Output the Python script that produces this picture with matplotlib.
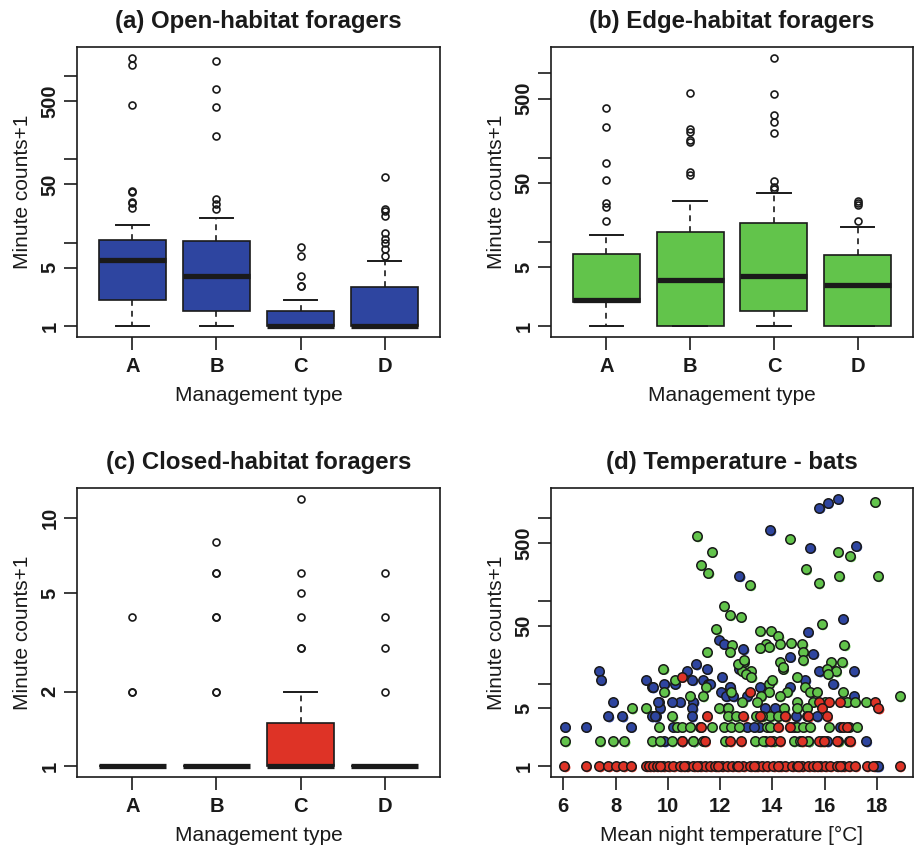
import matplotlib
matplotlib.use('Agg')
import matplotlib.pyplot as plt
import numpy as np
from matplotlib.ticker import FixedLocator, NullLocator, FixedFormatter
import matplotlib.transforms as mtransforms

plt.rcParams['font.family'] = ['Liberation Sans', 'DejaVu Sans']

# ---------------- data ----------------
categories = ['A', 'B', 'C', 'D']

# (a) Open-habitat foragers (minute counts + 1)
open_q1 = [2.05, 1.51, 1.0, 1.0]
open_med = [6.2, 4.0, 1.0, 1.0]
open_q3 = [10.9, 10.5, 1.51, 2.99]
open_whislo = [1, 1, 1, 1]
open_whishi = [16.1, 19.7, 2.05, 6.1]
open_fliers = [[1637, 1324, 443, 42, 40, 31, 30, 26],
               [1492, 696, 420, 188, 33, 29, 25],
               [8.9, 6.9, 4, 3, 3],
               [61, 25, 24, 21, 13, 11, 10, 8.3, 6.9]]

# (b) Edge-habitat foragers
edge_q1 = [1.95, 1.0, 1.51, 1.0]
edge_med = [2.05, 3.5, 3.9, 3.07]
edge_q3 = [7.1, 13.2, 16.9, 7.05]
edge_whislo = [1, 1, 1, 1]
edge_whishi = [12.2, 30.3, 37.7, 15.0]
edge_fliers = [[385, 233, 86, 54, 29, 26, 17.7],
               [587, 217, 201, 162, 153, 68, 62],
               [1528, 561, 324, 266, 198, 53, 45, 43],
               [30.6, 28.7, 27.1, 17.7]]

# (c) Closed-habitat foragers
closed_q1 = [1, 1, 1, 1]
closed_med = [1, 1, 1, 1]
closed_q3 = [1, 1, 1.5, 1]
closed_whislo = [1, 1, 1, 1]
closed_whishi = [1, 1, 2, 1]
closed_fliers = [[4, 2, 2],
                 [8, 6, 6, 4, 4, 2, 2],
                 [12, 6, 5, 4, 3, 3],
                 [6, 4, 3, 2]]

# (d) Temperature - bats (mean night temperature, minute counts + 1)
open_temp = [15.80, 16.12, 16.51, 13.92, 15.45, 17.21, 12.74, 16.70, 15.36, 11.97,
             12.13, 12.89, 15.57, 14.68, 11.08, 11.49, 12.74, 7.35, 7.44, 10.72,
             15.80, 17.11, 9.17, 9.38, 9.87, 10.28, 10.94, 11.36, 11.55, 12.06,
             16.34, 15.26, 12.36, 12.03, 13.02, 13.51, 14.66, 17.11, 7.89, 9.65,
             10.47, 10.98, 9.68, 9.38, 9.53, 7.72, 8.26, 10.94, 10.92, 13.70,
             6.06, 6.86, 8.59, 10.21, 13.49, 13.02, 17.59, 18.0, 9.86, 10.53,
             10.98, 13.72, 15.38, 16.09, 9.42, 9.62, 10.17, 9.51, 11.62, 12.28,
             12.39, 12.23, 14.1, 14.9, 15.7, 17.95, 18.05, 12.5, 13.3, 16.6]
open_cnt = [1332, 1517, 1710, 710, 439, 460, 198, 61, 42, 34,
            30, 26, 23, 21, 17, 15, 15, 14, 11, 14,
            14, 14, 11, 9, 10, 10, 11, 11, 10, 12,
            10, 11, 9, 8, 7, 9, 9, 7, 6, 6,
            6, 6, 5, 4, 4, 4, 4, 5, 4, 5,
            3, 3, 3, 3, 3, 3, 2, 1, 2, 2,
            2, 2, 2, 2, 9, 6, 6, 4, 10, 5,
            9, 7, 5, 4, 4, 1, 1, 7, 3, 3]

edge_temp = [17.91, 11.11, 14.66, 11.68, 16.51, 16.98, 11.26, 11.55, 15.29, 16.56,
             18.04, 13.15, 15.77, 12.13, 12.38, 12.79, 11.85, 13.53, 13.95, 14.23,
             14.71, 15.15, 15.89, 12.44, 12.36, 13.76, 13.89, 13.53, 14.28, 15.19,
             16.76, 11.49, 12.91, 14.28, 15.17, 16.26, 16.68, 9.83, 12.85, 13.17,
             13.00, 14.41, 14.94, 16.09, 16.44, 16.13, 10.28, 9.87, 11.45, 13.87,
             13.87, 14.57, 12.42, 15.26, 15.45, 15.70, 16.70, 10.85, 11.34, 12.85,
             13.56, 14.28, 18.87, 14.96, 15.57, 16.02, 16.85, 17.59, 17.17, 8.62,
             9.17, 11.97, 12.32, 14.46, 14.94, 15.32, 10.17, 12.32, 12.61, 13.38,
             13.92, 15.32, 13.6, 14.2, 14.5,
             9.65, 10.34, 10.53, 10.85, 11.23, 11.68, 12.13, 12.41, 12.74, 13.79,
             13.92, 14.66, 14.81, 14.94, 15.19, 15.45, 16.15, 16.92, 17.23,
             6.06, 7.40, 7.89, 8.34, 9.38, 9.68, 10.15, 10.98, 11.36, 12.19,
             13.34, 13.66, 14.04, 14.81, 15.07, 15.38, 15.89, 16.53, 16.92,
             12.7, 12.9, 13.2, 14.0, 14.4, 13.4]
edge_cnt = [1559, 601, 564, 389, 389, 345, 269, 217, 239, 198,
            198, 154, 162, 86, 67, 64, 45, 43, 43, 37,
            31, 30, 52, 29, 24, 30, 28, 27, 30, 24,
            29, 24, 18, 18, 19, 18, 18, 15, 14, 14,
            13, 15, 12, 15, 14, 13, 11, 8, 9, 10,
            8, 8, 8, 9, 8, 8, 8, 7, 7, 6,
            7, 7, 7, 6, 6, 6, 6, 6, 6, 5,
            5, 5, 5, 5, 5, 5, 4, 4, 4, 4,
            4, 4, 4, 4, 4,
            3, 3, 3, 3, 3, 3, 3, 3, 3, 3,
            3, 3, 3, 3, 3, 3, 3, 3, 3,
            2, 2, 2, 2, 2, 2, 2, 2, 2, 2,
            2, 2, 2, 2, 2, 2, 2, 2, 2,
            17, 19, 12, 11, 16, 6]

closed_temp = [10.53, 13.15, 15.77, 16.15, 16.57, 17.91, 18.06, 15.89,
               11.49, 12.89, 13.53, 14.49, 15.38, 16.09,
               11.26, 14.23, 14.68, 16.72, 16.85,
               10.53, 11.42, 12.38, 12.79, 13.92, 14.28, 15.13, 15.80, 15.96, 16.47, 16.98,
               6.04, 6.86, 7.38, 7.72, 8.00, 8.30, 8.59, 9.17, 9.29, 9.42,
               9.57, 9.83, 10.02, 10.21, 10.47, 10.72, 10.98, 11.23, 11.43, 11.62,
               11.81, 12.06, 12.26, 12.45, 12.64, 12.89, 13.15, 13.40, 13.60, 13.79,
               14.04, 14.30, 14.49, 14.75, 14.94, 15.13, 15.38, 15.57, 15.83, 16.02,
               16.21, 16.47, 16.72, 16.92, 17.17, 17.61, 17.87, 18.87,
               9.7, 10.6, 11.1, 11.9, 12.7, 13.3, 14.2, 15.0, 15.7, 16.6]
closed_cnt = [12, 8, 6, 6, 6, 6, 5, 5,
              4, 4, 4, 4, 4, 4,
              3, 3, 3, 3, 3,
              2, 2, 2, 2, 2, 2, 2, 2, 2, 2, 2,
              1, 1, 1, 1, 1, 1, 1, 1, 1, 1,
              1, 1, 1, 1, 1, 1, 1, 1, 1, 1,
              1, 1, 1, 1, 1, 1, 1, 1, 1, 1,
              1, 1, 1, 1, 1, 1, 1, 1, 1, 1,
              1, 1, 1, 1, 1, 1, 1, 1,
              1, 1, 1, 1, 1, 1, 1, 1, 1, 1]

col_open = '#2E45A0'
col_edge = '#62C44B'
col_closed = '#DE3326'
ink = '#1a1a1a'

W, H = 915, 847
fig = plt.figure(figsize=(W / 100, H / 100), dpi=100)


def px_axes(left, top, right, bottom):
    return fig.add_axes([left / W, 1 - bottom / H, (right - left) / W, (bottom - top) / H])


def r_limits(vals):
    lo, hi = np.log10(min(vals)), np.log10(max(vals))
    r = hi - lo
    return 10 ** (lo - 0.04 * r), 10 ** (hi + 0.04 * r)


def style(ax, title, xlabel, yticks, ylabels):
    ax.set_yscale('log')
    ax.yaxis.set_major_locator(FixedLocator(yticks))
    ax.yaxis.set_major_formatter(FixedFormatter(ylabels))
    ax.yaxis.set_minor_locator(NullLocator())
    for s in ax.spines.values():
        s.set_linewidth(1.2)
        s.set_color(ink)
    ax.tick_params(axis='both', length=9.5, width=1.2, color=ink, labelcolor=ink,
                   labelsize=14.5)
    ax.tick_params(axis='x', pad=5)
    ax.tick_params(axis='y', pad=3)
    for lab in ax.get_yticklabels():
        lab.set_rotation(90)
        lab.set_va('center')
        lab.set_fontweight('bold')
    for lab in ax.get_xticklabels():
        lab.set_fontweight('bold')
    ax.set_title(title, fontsize=17.3, fontweight='bold', pad=14, color=ink)
    ax.set_xlabel(xlabel, fontsize=15, color=ink, labelpad=7)
    ax.set_ylabel('Minute counts+1', fontsize=15, color=ink, labelpad=6)


def boxpanel(ax, q1, med, q3, wlo, whi, fliers, color, title, yticks, ylabels):
    stats = []
    for i in range(len(categories)):
        stats.append(dict(q1=q1[i], med=med[i], q3=q3[i], whislo=wlo[i],
                          whishi=whi[i], fliers=fliers[i], label=categories[i]))
    pos = np.arange(1, len(categories) + 1)
    ax.bxp(stats, positions=pos, widths=0.8, capwidths=0.4, patch_artist=True,
           showfliers=True,
           boxprops=dict(facecolor=color, edgecolor=ink, linewidth=1.2),
           medianprops=dict(color=ink, linewidth=3.8, solid_capstyle='butt'),
           whiskerprops=dict(color=ink, linewidth=1.2, linestyle=(0, (3.5, 3))),
           capprops=dict(color=ink, linewidth=1.4),
           flierprops=dict(marker='o', markerfacecolor='none', markeredgecolor=ink,
                           markersize=5, markeredgewidth=1.2))
    allv = [v for f in fliers for v in f] + list(wlo) + list(whi)
    ax.set_ylim(*r_limits(allv))
    ax.set_xlim(0.34, len(categories) + 0.66)
    ax.set_xticks(pos)
    ax.set_xticklabels(categories)
    style(ax, title, 'Management type', yticks, ylabels)


log_ticks = [1, 5, 10, 50, 100, 500, 1000]
log_labels = ['1', '5', '', '50', '', '500', '']

ax_a = px_axes(77, 47, 440, 337)
boxpanel(ax_a, open_q1, open_med, open_q3, open_whislo, open_whishi, open_fliers,
         col_open, '(a) Open-habitat foragers', log_ticks, log_labels)

ax_b = px_axes(551, 47, 913, 337)
boxpanel(ax_b, edge_q1, edge_med, edge_q3, edge_whislo, edge_whishi, edge_fliers,
         col_edge, '(b) Edge-habitat foragers', log_ticks, log_labels)

ax_c = px_axes(77, 488, 440, 777)
boxpanel(ax_c, closed_q1, closed_med, closed_q3, closed_whislo, closed_whishi,
         closed_fliers, col_closed, '(c) Closed-habitat foragers',
         [1, 2, 5, 10], ['1', '2', '5', '10'])

ax_d = px_axes(551, 488, 913, 777)
shadow = mtransforms.offset_copy(ax_d.transData, fig=fig, x=1.3, y=-1.3, units='dots')
for xs, ys, c in [(open_temp, open_cnt, col_open),
                  (edge_temp, edge_cnt, col_edge),
                  (closed_temp, closed_cnt, col_closed)]:
    ax_d.scatter(xs, ys, s=46, color=c, edgecolors='none', transform=shadow, zorder=2)
    ax_d.scatter(xs, ys, s=46, facecolor=c, edgecolors=ink, linewidths=1.1, zorder=3)
all_t = open_temp + edge_temp + closed_temp
tr = max(all_t) - min(all_t)
ax_d.set_xlim(min(all_t) - 0.04 * tr, max(all_t) + 0.04 * tr)
ax_d.set_ylim(*r_limits(open_cnt + edge_cnt + closed_cnt))
ax_d.set_xticks([6, 8, 10, 12, 14, 16, 18])
style(ax_d, '(d) Temperature - bats', 'Mean night temperature [°C]', log_ticks, log_labels)

fig.savefig('out.png', dpi=100, facecolor='white')
